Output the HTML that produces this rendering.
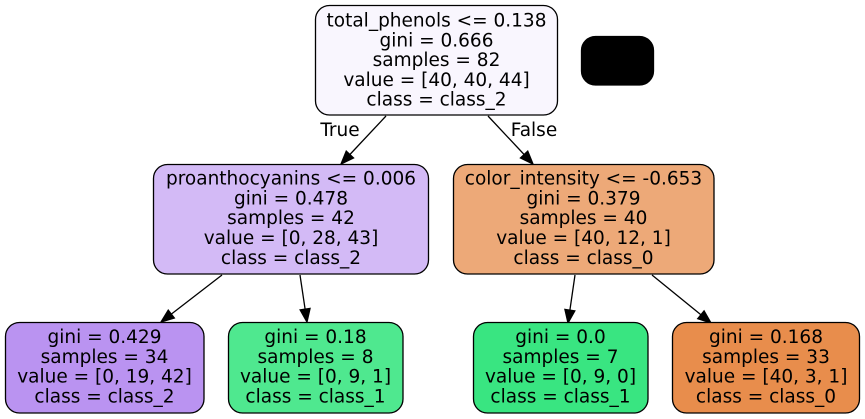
<!DOCTYPE html>
<html>
<head>
<meta charset="utf-8">
<style>
html,body{margin:0;padding:0;background:#fff;}
svg{display:block;}
text{font-family:"DejaVu Sans","Liberation Sans",sans-serif;font-size:18.5px;fill:#000;text-anchor:middle;}
</style>
</head>
<body>
<svg width="865" height="419" viewBox="0 0 865 419" xmlns="http://www.w3.org/2000/svg">
<rect x="0" y="0" width="865" height="419" fill="#ffffff"/>

<!-- edges -->
<g stroke="#000" stroke-width="1.3" fill="none">
<line x1="386" y1="116" x2="349.9" y2="154.5"/>
<line x1="488" y1="116" x2="524.1" y2="154.5"/>
<line x1="222" y1="275" x2="171.3" y2="314.1"/>
<line x1="300" y1="275" x2="305.1" y2="309.1"/>
<line x1="575" y1="275" x2="569.9" y2="310.1"/>
<line x1="652" y1="275" x2="700.9" y2="314.8"/>
</g>
<g fill="#000" stroke="#000" stroke-width="1.3">
<polygon points="341,164 353.55,157.9 346.25,151.1"/>
<polygon points="533,164 520.45,157.9 527.75,151.1"/>
<polygon points="161,322 174.35,318.03 168.25,310.11"/>
<polygon points="307,322 300.14,309.88 310.04,308.4"/>
<polygon points="568,323 574.82,310.85 564.92,309.41"/>
<polygon points="711,323 697.75,318.68 704.07,310.92"/>
</g>
<text x="340" y="136">True</text>
<text x="534" y="136">False</text>

<!-- nodes -->
<g stroke="#000" stroke-width="1.3">
<rect x="315.5" y="5.5" width="242" height="109.5" rx="14" ry="14" fill="#f9f6fe"/>
<rect x="581.5" y="36.5" width="72" height="48.5" rx="14" ry="14" fill="#000"/>
<rect x="153.5" y="164.5" width="275" height="109.5" rx="14" ry="14" fill="#d3baf6"/>
<rect x="453.5" y="164.5" width="260.5" height="109.5" rx="14" ry="14" fill="#eda978"/>
<rect x="5.5" y="322.5" width="198.5" height="90.5" rx="14" ry="14" fill="#ba93f1"/>
<rect x="228.5" y="322.5" width="174.5" height="90.5" rx="14" ry="14" fill="#4fe88f"/>
<rect x="473.5" y="322.5" width="174.5" height="90.5" rx="14" ry="14" fill="#39e581"/>
<rect x="672.5" y="322.5" width="187" height="90.5" rx="14" ry="14" fill="#e88d4c"/>
</g>

<!-- root -->
<text x="436.5" y="26.5">total_phenols &lt;= 0.138</text>
<text x="436.5" y="46.3">gini = 0.666</text>
<text x="436.5" y="66.1">samples = 82</text>
<text x="436.5" y="85.9">value = [40, 40, 44]</text>
<text x="436.5" y="105.7">class = class_2</text>

<!-- L2 left -->
<text x="291" y="184.6">proanthocyanins &lt;= 0.006</text>
<text x="291" y="204.4">gini = 0.478</text>
<text x="291" y="224.2">samples = 42</text>
<text x="291" y="244">value = [0, 28, 43]</text>
<text x="291" y="263.8">class = class_2</text>

<!-- L2 right -->
<text x="583.5" y="184.6">color_intensity &lt;= -0.653</text>
<text x="583.5" y="204.4">gini = 0.379</text>
<text x="583.5" y="224.2">samples = 40</text>
<text x="583.5" y="244">value = [40, 12, 1]</text>
<text x="583.5" y="263.8">class = class_0</text>

<!-- leaves -->
<text x="104.5" y="343">gini = 0.429</text>
<text x="104.5" y="362.8">samples = 34</text>
<text x="104.5" y="382.6">value = [0, 19, 42]</text>
<text x="104.5" y="402.4">class = class_2</text>

<text x="315.5" y="343">gini = 0.18</text>
<text x="315.5" y="362.8">samples = 8</text>
<text x="315.5" y="382.6">value = [0, 9, 1]</text>
<text x="315.5" y="402.4">class = class_1</text>

<text x="560.5" y="343">gini = 0.0</text>
<text x="560.5" y="362.8">samples = 7</text>
<text x="560.5" y="382.6">value = [0, 9, 0]</text>
<text x="560.5" y="402.4">class = class_1</text>

<text x="766" y="343">gini = 0.168</text>
<text x="766" y="362.8">samples = 33</text>
<text x="766" y="382.6">value = [40, 3, 1]</text>
<text x="766" y="402.4">class = class_0</text>
</svg>
</body>
</html>
